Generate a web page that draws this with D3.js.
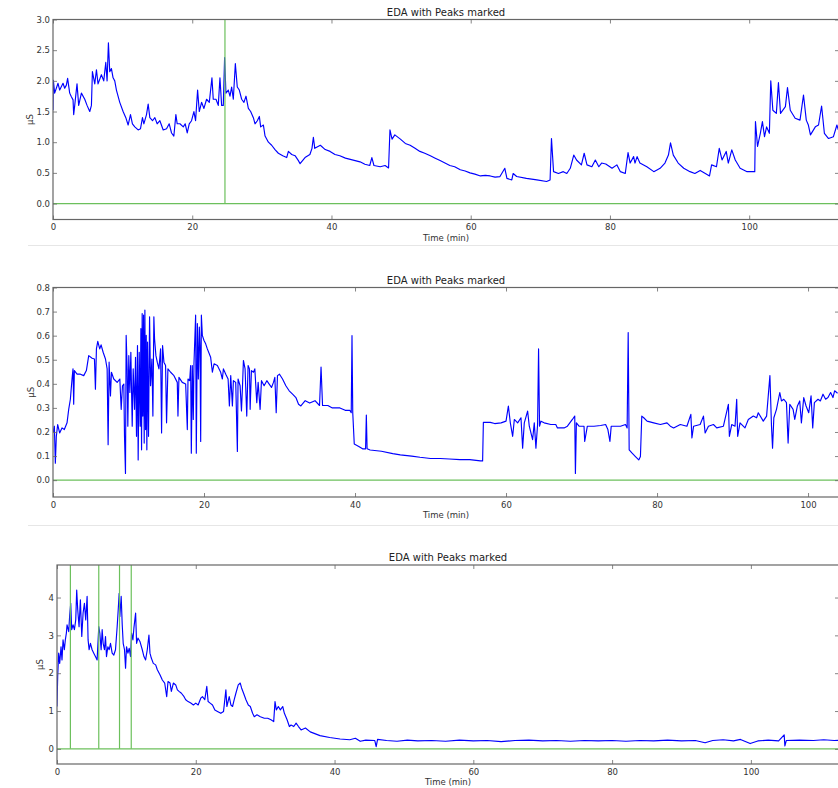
<!DOCTYPE html>
<html>
<head>
<meta charset="utf-8">
<script src="https://cdn.jsdelivr.net/npm/d3@7"></script>
<style>
  body { margin: 0; background: #fff; }
  svg { display: block; }
  text { font-family: "DejaVu Sans", sans-serif; }
</style>
</head>
<body>
<svg id="chart" width="838" height="788"></svg>
<script>
// EDA traces, [minutes, microsiemens]
const eda_1 = [
    [0,1.52],[0.05,2.01],[0.24,1.8],[0.72,1.96],[0.96,1.85],[1.44,1.96],[1.68,1.88],[1.92,1.93],[2.1,2.04],[2.4,1.8],
    [2.64,1.74],[2.88,1.69],[2.97,1.45],[3.12,1.6],[3.45,1.95],[3.69,1.6],[4.08,1.8],[4.56,1.7],[4.89,1.6],[5.28,1.5],
    [5.52,1.6],[5.66,2.15],[6.0,1.95],[6.24,2.18],[6.47,1.95],[6.95,2.1],[7.29,2.0],[7.58,2.3],[7.77,2.0],[7.96,2.62],
    [8.15,2.15],[8.39,2.2],[8.63,2.05],[8.87,2.0],[9.11,1.85],[9.59,1.65],[10.07,1.5],[10.46,1.4],[10.79,1.28],[11.13,1.45],
    [11.41,1.3],[11.75,1.25],[12.23,1.2],[12.57,1.22],[12.85,1.4],[13.05,1.3],[13.43,1.45],[13.67,1.62],[13.91,1.4],[14.29,1.35],
    [14.63,1.4],[14.96,1.3],[15.35,1.35],[15.83,1.2],[16.31,1.22],[16.69,1.3],[17.03,1.15],[17.36,1.1],[17.65,1.45],[17.84,1.3],
    [18.23,1.3],[18.71,1.25],[18.99,1.3],[19.28,1.15],[19.57,1.3],[19.9,1.35],[20.24,1.5],[20.48,1.35],[20.77,1.85],[21.01,1.5],
    [21.34,1.65],[21.68,1.55],[22.06,1.7],[22.45,1.65],[22.83,2.05],[23.02,1.7],[23.41,1.7],[23.74,1.6],[23.98,2.05],[24.22,1.6],
    [24.46,1.6],[24.65,2.38],[24.84,1.8],[25.18,1.85],[25.42,1.75],[25.66,1.9],[25.9,1.7],[26.19,2.28],[26.47,1.9],[26.76,1.85],
    [27.1,1.7],[27.43,1.65],[27.72,1.75],[28.06,1.55],[28.39,1.5],[28.78,1.4],[29.02,1.3],[29.35,1.35],[29.64,1.42],[29.83,1.25],
    [30.22,1.28],[30.46,1.1],[30.94,1.0],[31.41,0.95],[31.89,0.88],[32.37,0.82],[33.0,0.78],[33.57,0.75],[33.81,0.85],[34.29,0.8],
    [34.77,0.78],[35.25,0.7],[35.49,0.65],[36.2,0.75],[36.9,0.8],[37.2,0.9],[37.4,1.08],[37.6,0.9],[38.4,0.95],[39.1,0.88],
    [39.8,0.85],[40.5,0.8],[41.2,0.78],[42.0,0.74],[42.7,0.72],[43.4,0.7],[44.1,0.68],[44.8,0.64],[45.5,0.62],[45.8,0.75],
    [46.1,0.62],[47.0,0.6],[47.7,0.62],[48.2,0.58],[48.4,1.2],[48.7,1.05],[49.1,1.12],[49.9,1.05],[50.6,0.98],[51.3,0.95],
    [52.0,0.9],[52.7,0.85],[53.4,0.82],[54.2,0.78],[54.9,0.74],[55.6,0.7],[56.3,0.66],[57.0,0.62],[57.7,0.6],[58.5,0.55],
    [59.2,0.53],[59.9,0.5],[60.6,0.48],[61.4,0.45],[62.1,0.46],[62.8,0.45],[63.5,0.43],[64.2,0.44],[64.9,0.575],[65.2,0.41],
    [65.9,0.385],[66.1,0.49],[66.6,0.44],[68.0,0.41],[69.5,0.385],[70.9,0.36],[71.4,0.385],[71.6,1.06],[71.9,0.52],[72.6,0.49],
    [73.3,0.52],[73.8,0.49],[74.3,0.575],[74.8,0.79],[75.2,0.71],[75.9,0.63],[76.3,0.82],[76.7,0.63],[77.4,0.6],[77.9,0.71],
    [78.4,0.6],[78.8,0.66],[79.4,0.645],[80.3,0.575],[81.0,0.63],[81.5,0.52],[82.2,0.49],[82.6,0.83],[82.9,0.66],[83.4,0.765],
    [83.6,0.66],[83.9,0.765],[84.3,0.66],[85.3,0.6],[86.3,0.52],[87.2,0.575],[87.9,0.66],[88.4,0.79],[88.7,0.99],[89.1,0.79],
    [89.8,0.66],[90.6,0.575],[91.5,0.52],[92.2,0.49],[92.96,0.54],[93.7,0.49],[94.3,0.45],[94.6,0.63],[95.3,0.6],[95.7,0.9],
    [96.1,0.71],[96.7,0.85],[97.0,0.66],[97.5,0.875],[98.0,0.71],[98.7,0.575],[99.7,0.52],[100.4,0.52],[100.8,0.52],[100.9,1.335],
    [101.2,0.93],[101.6,1.145],[101.9,1.335],[102.2,1.09],[102.5,1.25],[102.9,1.145],[103.1,2.0],[103.4,1.52],[103.9,1.47],[104.2,1.97],
    [104.5,1.47],[105.2,1.58],[105.5,1.89],[105.9,1.52],[106.6,1.39],[107.3,1.36],[107.8,1.77],[108.2,1.36],[108.5,1.28],[108.8,1.12],
    [109.5,1.25],[109.96,1.28],[110.4,1.59],[110.8,1.145],[111.4,1.06],[112.1,1.09],[112.6,1.28],[112.8,1.2]
];

const eda_2 = [
    [0,0.196],[0.18,0.224],[0.31,0.07],[0.44,0.182],[0.62,0.231],[0.88,0.196],[1.19,0.217],[1.5,0.21],[1.86,0.238],[2.08,0.294],
    [2.3,0.336],[2.52,0.42],[2.65,0.462],[2.74,0.315],[2.83,0.455],[3.19,0.44],[3.63,0.44],[4.07,0.434],[4.42,0.455],[4.73,0.517],
    [5.18,0.506],[5.49,0.503],[5.62,0.378],[5.75,0.545],[5.93,0.576],[6.19,0.545],[6.37,0.562],[6.64,0.531],[6.95,0.503],[7.17,0.462],
    [7.30,0.147],[7.43,0.49],[7.61,0.35],[7.74,0.448],[8.05,0.42],[8.5,0.406],[8.85,0.42],[9.03,0.294],[9.2,0.392],[9.38,0.399],
    [9.47,0.182],[9.6,0.028],[9.69,0.601],[9.82,0.462],[9.91,0.224],[10.04,0.517],[10.18,0.364],[10.31,0.531],[10.49,0.224],[10.62,0.462],
    [10.8,0.294],[10.93,0.51],[11.06,0.182],[11.19,0.559],[11.28,0.084],[11.42,0.531],[11.55,0.224],[11.64,0.629],[11.73,0.126],[11.81,0.692],
    [11.9,0.266],[11.99,0.685],[12.08,0.154],[12.17,0.706],[12.26,0.21],[12.35,0.601],[12.43,0.126],[12.52,0.573],[12.65,0.182],[12.79,0.678],
    [12.92,0.392],[13.1,0.503],[13.23,0.266],[13.36,0.678],[13.45,0.587],[13.63,0.517],[13.81,0.49],[14.03,0.462],[14.25,0.545],[14.38,0.196],
    [14.51,0.559],[14.69,0.49],[14.91,0.476],[15.04,0.238],[15.22,0.462],[15.58,0.448],[16.02,0.434],[16.46,0.406],[16.55,0.266],[16.68,0.427],
    [17.12,0.406],[17.57,0.399],[17.79,0.21],[17.88,0.42],[18.1,0.413],[18.23,0.476],[18.32,0.112],[18.45,0.476],[18.58,0.252],[18.67,0.483],
    [18.89,0.685],[18.98,0.112],[19.12,0.65],[19.25,0.42],[19.38,0.636],[19.47,0.559],[19.56,0.161],[19.65,0.685],[19.78,0.601],[20.0,0.58],
    [20.22,0.566],[20.44,0.545],[20.88,0.51],[21.11,0.448],[21.33,0.483],[21.77,0.476],[22.21,0.448],[22.43,0.42],[22.57,0.462],[22.88,0.44],
    [23.19,0.42],[23.36,0.308],[23.54,0.434],[23.76,0.308],[23.89,0.413],[24.2,0.406],[24.42,0.119],[24.51,0.42],[24.78,0.392],[24.96,0.287],
    [25.09,0.385],[25.22,0.497],[25.44,0.462],[25.66,0.266],[25.84,0.476],[26.02,0.462],[26.11,0.294],[26.28,0.455],[26.55,0.448],[26.73,0.462],
    [26.99,0.322],[27.17,0.406],[27.43,0.294],[27.61,0.413],[27.96,0.392],[28.32,0.413],[28.63,0.399],[28.94,0.385],[29.2,0.406],[29.38,0.427],
    [29.56,0.28],[29.73,0.434],[30.0,0.44],[30.4,0.42],[30.84,0.392],[31.28,0.371],[31.73,0.357],[32.17,0.343],[32.52,0.315],[32.83,0.308],
    [33.4,0.33],[34.0,0.32],[34.7,0.33],[35.3,0.31],[35.5,0.47],[35.7,0.31],[36.4,0.31],[37.0,0.3],[38.0,0.3],[38.7,0.29],
    [39.3,0.29],[39.5,0.28],[39.6,0.6],[39.7,0.28],[39.9,0.15],[40.5,0.14],[41.0,0.13],[41.4,0.13],[41.5,0.27],[41.6,0.13],
    [42.0,0.125],[43.5,0.12],[45,0.11],[46.0,0.105],[47.5,0.1],[48.6,0.095],[50,0.09],[51.3,0.09],[52.5,0.088],[53.9,0.085],
    [55.2,0.085],[56.6,0.08],[56.9,0.08],[57.0,0.24],[57.9,0.24],[58.5,0.235],[59.34,0.238],[60.0,0.245],[60.31,0.308],[60.57,0.238],
    [60.88,0.182],[61.1,0.252],[61.54,0.238],[61.98,0.259],[62.2,0.133],[62.42,0.238],[62.86,0.287],[63.08,0.224],[63.52,0.168],[63.74,0.238],
    [63.96,0.133],[64.18,0.231],[64.31,0.545],[64.44,0.224],[64.62,0.245],[65.05,0.238],[65.93,0.231],[66.59,0.231],[66.81,0.217],[67.69,0.217],
    [68.13,0.224],[68.79,0.252],[69.1,0.266],[69.19,0.028],[69.32,0.238],[69.67,0.224],[70.33,0.224],[70.42,0.161],[70.77,0.224],[71.65,0.224],
    [72.53,0.227],[73.19,0.231],[73.49,0.21],[73.76,0.161],[73.93,0.224],[74.73,0.224],[75.16,0.224],[75.82,0.231],[76.04,0.217],[76.18,0.613],
    [76.31,0.126],[76.7,0.112],[77.14,0.098],[77.58,0.084],[77.8,0.098],[77.98,0.266],[78.24,0.259],[78.68,0.245],[79.56,0.238],[80.44,0.231],
    [81.32,0.238],[81.76,0.224],[82.2,0.217],[83.08,0.231],[83.96,0.224],[84.48,0.273],[84.62,0.175],[84.84,0.224],[85.71,0.231],[86.15,0.266],
    [86.37,0.196],[86.81,0.224],[87.47,0.231],[87.91,0.217],[88.79,0.224],[89.45,0.315],[89.58,0.182],[89.89,0.231],[90.33,0.224],[90.55,0.336],
    [90.68,0.182],[90.99,0.238],[91.65,0.217],[92.09,0.252],[92.75,0.266],[93.19,0.259],[93.41,0.28],[94.07,0.245],[94.51,0.266],[94.95,0.434],
    [95.16,0.224],[95.3,0.133],[95.47,0.259],[95.82,0.294],[96.26,0.364],[96.48,0.329],[96.79,0.336],[97.14,0.322],[97.36,0.154],[97.58,0.315],
    [98.02,0.294],[98.24,0.252],[98.59,0.308],[98.9,0.329],[99.12,0.238],[99.43,0.343],[99.74,0.308],[100.09,0.28],[100.4,0.35],[100.62,0.217],
    [100.84,0.322],[101.32,0.336],[101.63,0.329],[101.98,0.357],[102.33,0.336],[102.64,0.343],[102.99,0.364],[103.3,0.343],[103.52,0.371],[103.91,0.361]
];

const eda_3 = [
    [0,1.12],[0.1,1.91],[0.24,2.53],[0.39,2.26],[0.58,2.7],[0.72,2.35],[0.87,2.88],[1.06,2.62],[1.2,2.88],[1.35,3.06],
    [1.45,3.28],[1.69,3.1],[1.83,3.54],[1.98,3.85],[2.12,3.15],[2.31,3.28],[2.51,3.15],[2.7,3.41],[2.84,4.2],[2.99,3.67],
    [3.18,3.23],[3.37,3.94],[3.57,2.97],[3.76,3.59],[3.95,3.85],[4.14,3.41],[4.34,4.03],[4.48,2.88],[4.63,2.62],[4.82,2.79],
    [5.06,2.62],[5.3,2.53],[5.54,2.44],[5.78,2.35],[6.02,3.23],[6.17,3.06],[6.36,2.62],[6.51,3.15],[6.65,2.79],[6.84,2.62],
    [6.99,2.97],[7.13,2.44],[7.33,2.7],[7.52,2.62],[7.71,2.79],[7.95,2.53],[8.19,2.48],[8.43,2.62],[8.67,3.23],[8.82,3.67],
    [8.96,4.11],[9.06,3.5],[9.25,4.03],[9.4,3.28],[9.54,2.79],[9.73,2.62],[9.88,2.13],[10.02,2.7],[10.22,2.53],[10.41,2.66],
    [10.6,2.44],[10.75,3.06],[10.94,2.88],[11.08,3.19],[11.33,3.59],[11.47,2.79],[11.66,2.93],[11.95,2.84],[12.29,2.62],[12.53,2.44],
    [12.77,2.35],[13.01,2.62],[13.25,3.01],[13.4,2.53],[13.59,2.4],[13.88,2.26],[14.22,2.22],[14.46,2.09],[14.84,1.96],[15.18,1.82],
    [15.52,1.74],[15.81,1.38],[16.0,1.78],[16.29,1.74],[16.48,1.52],[16.77,1.74],[17.11,1.69],[17.35,1.56],[17.59,1.52],[17.93,1.47],
    [18.31,1.38],[18.55,1.3],[18.89,1.25],[19.28,1.21],[19.66,1.16],[20.0,1.21],[20.34,1.16],[20.72,1.34],[20.96,1.38],[21.3,1.3],
    [21.59,1.65],[21.78,1.25],[22.07,1.21],[22.41,1.16],[22.75,1.03],[23.13,0.99],[23.61,0.94],[24.0,0.99],[24.34,1.56],[24.48,1.12],
    [24.82,1.38],[25.06,1.16],[25.3,1.12],[25.54,1.3],[25.78,1.47],[26.12,1.69],[26.41,1.74],[26.6,1.61],[26.89,1.47],[27.23,1.3],
    [27.57,1.16],[27.86,1.12],[28.19,0.94],[28.43,0.85],[28.82,0.9],[29.3,0.85],[29.88,0.81],[30.36,0.81],[30.84,0.77],[31.23,0.72],
    [31.42,1.25],[31.61,1.03],[31.9,1.12],[32.19,1.03],[32.53,1.12],[32.77,0.94],[33.16,0.77],[33.49,0.59],[33.73,0.63],[34.12,0.59],
    [34.46,0.68],[34.8,0.59],[35.18,0.5],[35.8,0.55],[36.5,0.45],[37.9,0.35],[39.3,0.3],[40.8,0.26],[42.2,0.24],[43.0,0.28],
    [43.7,0.2],[44.5,0.23],[45.8,0.22],[46.0,0.06],[46.2,0.25],[47.5,0.22],[49,0.2],[50.5,0.23],[52,0.21],[54,0.22],
    [56,0.2],[58,0.23],[60,0.21],[62,0.22],[64,0.19],[66,0.22],[68,0.23],[70,0.21],[72,0.22],[74,0.2],
    [76,0.22],[78,0.21],[80,0.22],[82,0.2],[84,0.22],[86,0.21],[88,0.23],[90,0.21],[92,0.22],[93.4,0.16],
    [94.5,0.22],[96,0.24],[97.5,0.21],[98.5,0.25],[99.9,0.14],[101,0.21],[102.5,0.23],[104,0.21],[104.8,0.37],[104.9,0.08],
    [105.1,0.22],[107,0.23],[109,0.22],[110.5,0.24],[112,0.22],[113,0.23]
];

// peak markers (minutes)
const peaks_1 = [24.7];
const peaks_2 = [];
const peaks_3 = [1.93, 6.02, 9.01, 10.7];

const x_ticks = [0, 20, 40, 60, 80, 100, 120];
const y_ticks_1 = [0, 0.5, 1.0, 1.5, 2.0, 2.5, 3.0];
const y_ticks_2 = [0, 0.1, 0.2, 0.3, 0.4, 0.5, 0.6, 0.7, 0.8];
const y_ticks_3 = [0, 1, 2, 3, 4];

const title_text = 'EDA with Peaks marked';
const x_label = 'Time (min)';
const y_label = 'μS';

// layout of the three stacked axes (pixels)
const panels = [
    {data: eda_1, peaks: peaks_1, y_ticks: y_ticks_1, fmt: '.1f',
        left: 53, right: 839, top: 19.5, bottom: 219.5, x_max: 112.9, y_min: -0.26, y_max: 3.0, ylab_x: 33},
    {data: eda_2, peaks: peaks_2, y_ticks: y_ticks_2, fmt: '.1f',
        left: 53, right: 839, top: 287.5, bottom: 497, x_max: 104.1, y_min: -0.07, y_max: 0.8, ylab_x: 34},
    {data: eda_3, peaks: peaks_3, y_ticks: y_ticks_3, fmt: 'd',
        left: 57, right: 839, top: 565, bottom: 764, x_max: 112.7, y_min: -0.4, y_max: 4.86, ylab_x: 43},
];

const separators = [245.5, 525.5];

const svg = d3.select('#chart');
svg.append('rect').attr('width', 838).attr('height', 788).attr('fill', '#fff');

svg.selectAll('line.sep')
    .data(separators)
    .join('line')
    .attr('class', 'sep')
    .attr('x1', 28).attr('x2', 838)
    .attr('y1', d => d).attr('y2', d => d)
    .attr('stroke', '#e6e6e6')
    .attr('stroke-width', 1);


function style_axis(g) {
    g.select('.domain').remove();
    g.selectAll('.tick line').attr('stroke', '#666').attr('stroke-width', 0.8);
    g.selectAll('.tick text')
        .attr('fill', '#333')
        .style('font-size', '8.5px')
        .style('font-family', '"DejaVu Sans", sans-serif');
}


function draw_panel(p, i) {
    const x = d3.scaleLinear().domain([0, p.x_max]).range([p.left, p.right]);
    const y = d3.scaleLinear().domain([p.y_min, p.y_max]).range([p.bottom, p.top]);
    const g = svg.append('g');
    const clip_id = `clip-${i}`;

    g.append('clipPath').attr('id', clip_id)
        .append('rect')
        .attr('x', p.left).attr('y', p.top)
        .attr('width', p.right - p.left).attr('height', p.bottom - p.top);

    const plot = g.append('g').attr('clip-path', `url(#${clip_id})`);

    // zero baseline
    plot.append('line')
        .attr('x1', p.left).attr('x2', p.right)
        .attr('y1', y(0)).attr('y2', y(0))
        .attr('stroke', '#6cc05c')
        .attr('stroke-width', 1.2);

    plot.append('path')
        .datum(p.data)
        .attr('fill', 'none')
        .attr('stroke', '#0000ff')
        .attr('stroke-width', 1.15)
        .attr('stroke-linejoin', 'round')
        .attr('d', d3.line().x(d => x(d[0])).y(d => y(d[1])));

    // peaks drawn over the trace
    plot.selectAll('line.peak')
        .data(p.peaks)
        .join('line')
        .attr('class', 'peak')
        .attr('x1', d => x(d)).attr('x2', d => x(d))
        .attr('y1', y(0)).attr('y2', y(p.y_max))
        .attr('stroke', '#6cc05c')
        .attr('stroke-width', 1.2);

    const ticks_x = x_ticks.filter(t => t <= p.x_max);

    g.append('g')
        .attr('transform', `translate(0,${p.bottom})`)
        .call(d3.axisBottom(x).tickValues(ticks_x).tickFormat(d3.format('d'))
            .tickSizeInner(-4).tickSizeOuter(0).tickPadding(4.5))
        .call(style_axis);
    g.append('g')
        .attr('transform', `translate(0,${p.top})`)
        .call(d3.axisTop(x).tickValues(ticks_x).tickFormat('')
            .tickSizeInner(-4).tickSizeOuter(0))
        .call(style_axis);
    g.append('g')
        .attr('transform', `translate(${p.left},0)`)
        .call(d3.axisLeft(y).tickValues(p.y_ticks).tickFormat(d3.format(p.fmt))
            .tickSizeInner(-4).tickSizeOuter(0).tickPadding(3))
        .call(style_axis);
    g.append('g')
        .attr('transform', `translate(${p.right},0)`)
        .call(d3.axisRight(y).tickValues(p.y_ticks).tickFormat('')
            .tickSizeInner(-4).tickSizeOuter(0))
        .call(style_axis);

    g.append('rect')
        .attr('x', p.left).attr('y', p.top)
        .attr('width', p.right - p.left).attr('height', p.bottom - p.top)
        .attr('fill', 'none')
        .attr('stroke', '#666')
        .attr('stroke-width', 1.2);

    g.append('text')
        .attr('x', (p.left + p.right) / 2)
        .attr('y', p.top - 4)
        .attr('text-anchor', 'middle')
        .attr('fill', '#222')
        .style('font-size', '10px')
        .text(title_text);

    g.append('text')
        .attr('x', (p.left + p.right) / 2)
        .attr('y', p.bottom + 21)
        .attr('text-anchor', 'middle')
        .attr('fill', '#333')
        .style('font-size', '8.5px')
        .text(x_label);

    g.append('text')
        .attr('transform', `translate(${p.ylab_x},${(p.top + p.bottom) / 2}) rotate(-90)`)
        .attr('text-anchor', 'middle')
        .attr('fill', '#333')
        .style('font-size', '8.5px')
        .text(y_label);
}


panels.forEach(draw_panel);
</script>
</body>
</html>
